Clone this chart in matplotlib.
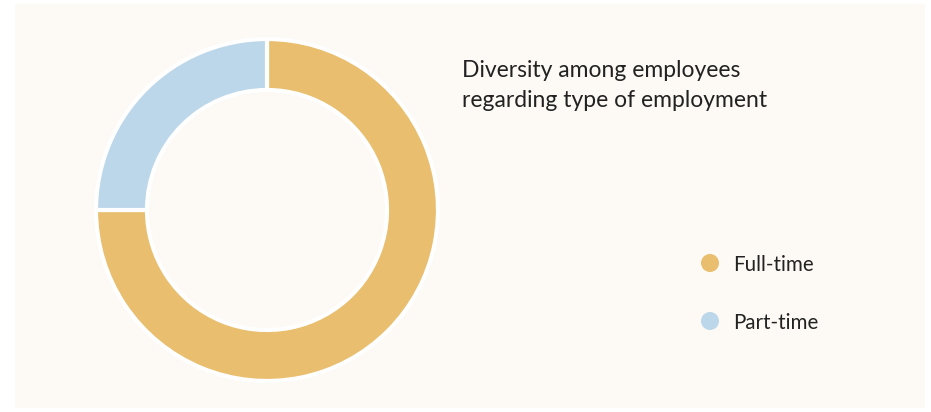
import matplotlib.pyplot as plt
from matplotlib.patches import Rectangle, Circle

labels = ['Full-time', 'Part-time']
shares = [75, 25]
colors = ['#E9BF6F', '#BDD7EA']
title = 'Diversity among employees\nregarding type of employment'

W, H = 931, 412
fig = plt.figure(figsize=(W / 100, H / 100), dpi=100, facecolor='white')
plt.rcParams['font.family'] = ['Lato', 'DejaVu Sans']

# background axes in pixel units: cream panel, title, legend
bg = fig.add_axes([0, 0, 1, 1], zorder=0)
bg.set_xlim(0, W)
bg.set_ylim(H, 0)
bg.set_aspect('equal')
bg.axis('off')
bg.add_patch(Rectangle((15, 4), 910, 404, facecolor='#FDF9F4', edgecolor='none'))

bg.text(462, 60, title, fontsize=16.5, color='#222222', va='top', ha='left',
        linespacing=1.55)

for i, (lab, col) in enumerate(zip(labels, colors)):
    y = 263 + 58 * i
    bg.add_patch(Circle((710, y), 9, facecolor=col, edgecolor='none'))
    bg.text(733, y + 2, lab, fontsize=14.8, color='#222222', va='center', ha='left')

# donut
cx, cy, half = 267, 210, 172
ax = fig.add_axes([(cx - half) / W, (H - cy - half) / H, 2 * half / W, 2 * half / H],
                  zorder=1)
ax.pie(shares, colors=colors, startangle=90, counterclock=False, radius=171 / half,
       wedgeprops=dict(width=51 / half, edgecolor='white', linewidth=3))
ax.set_xlim(-1, 1)
ax.set_ylim(-1, 1)
ax.set_aspect('equal')
ax.axis('off')

fig.savefig('out.png', dpi=100, facecolor='white')
